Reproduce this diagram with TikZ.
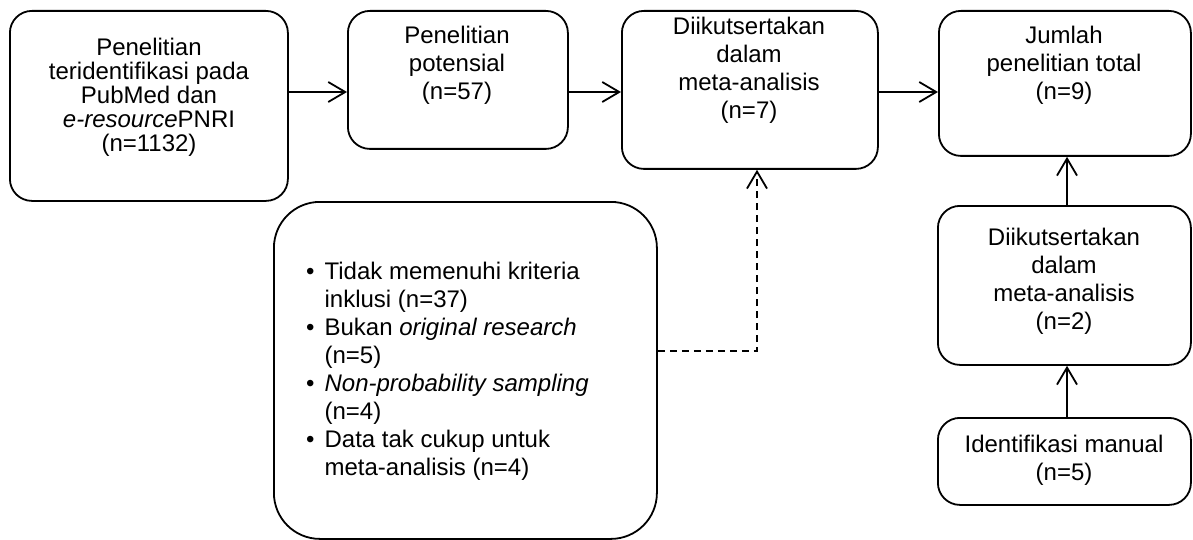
\documentclass[tikz,border=0pt]{standalone}
\usepackage{fontspec}
\setmainfont{Liberation Sans}
\usetikzlibrary{arrows.meta}
\begin{document}
\begin{tikzpicture}[x=1pt,y=-1pt,
  box/.style={draw, line width=1.8pt, rounded corners=22pt, anchor=north west, inner sep=0pt},
  txt/.style={align=center, font=\fontsize{24}{28}\selectfont, inner sep=0pt},
  arr/.style={line width=1.8pt, -{Straight Barb[length=17pt,width=20pt,line width=1.8pt]}},
  dsh/.style={arr, dash pattern=on 7pt off 5pt},
]
\useasboundingbox (0,0) rectangle (1193,540);
% boxes
\node[box, minimum width=278pt, minimum height=190pt] (b1) at (9,10) {};
\node[box, minimum width=220pt, minimum height=138pt] (b2) at (347,10) {};
\node[box, minimum width=256pt, minimum height=158pt] (b3) at (621,10) {};
\node[box, minimum width=252pt, minimum height=145pt] (b4) at (938,10) {};
\node[box, minimum width=253pt, minimum height=159pt] (b5) at (937,205) {};
\node[box, minimum width=253pt, minimum height=87pt] (b6) at (937,417) {};
\node[box, rounded corners=46pt, minimum width=383pt, minimum height=337pt] (bl) at (273,201) {};
% texts
\node[txt, font=\fontsize{24}{24}\selectfont] (t1) at (149,97) {Penelitian\\teridentifikasi pada\\PubMed dan\\\textit{e-resource}PNRI\\(n=1132)};
\node[txt] (t2) at (457,65) {Penelitian\\potensial\\(n=57)};
\node[txt] (t3) at (749,70) {Diikutsertakan\\dalam\\meta-analisis\\(n=7)};
\node[txt] (t4) at (1064,65) {Jumlah\\penelitian total\\(n=9)};
\node[txt] (t5) at (1064,281) {Diikutsertakan\\dalam\\meta-analisis\\(n=2)};
\node[txt] (t6) at (1064,460) {Identifikasi manual\\(n=5)};
\node[txt, anchor=west, align=left] (tl) at (306,372) {%
  \begin{tabular}{@{}l@{\hspace{10pt}}l@{}}
  \textbullet & Tidak memenuhi kriteria\\
   & inklusi (n=37)\\
  \textbullet & Bukan \textit{original research}\\
   & (n=5)\\
  \textbullet & \textit{Non-probability sampling}\\
   & (n=4)\\
  \textbullet & Data tak cukup untuk\\
   & meta-analisis (n=4)
  \end{tabular}};
% connectors
\coordinate (row) at (0,92);
\coordinate (col) at (1067,0);
\coordinate (dx) at (757,351);
\draw[arr] (b1.east |- row) -- (b2.west |- row);
\draw[arr] (b2.east |- row) -- (b3.west |- row);
\draw[arr] (b3.east |- row) -- (b4.west |- row);
\draw[arr] (b5.north -| col) -- (b4.south -| col);
\draw[arr] (b6.north -| col) -- (b5.south -| col);
\draw[dsh] (bl.east |- dx) -| (b3.south -| dx);
\end{tikzpicture}
\end{document}
